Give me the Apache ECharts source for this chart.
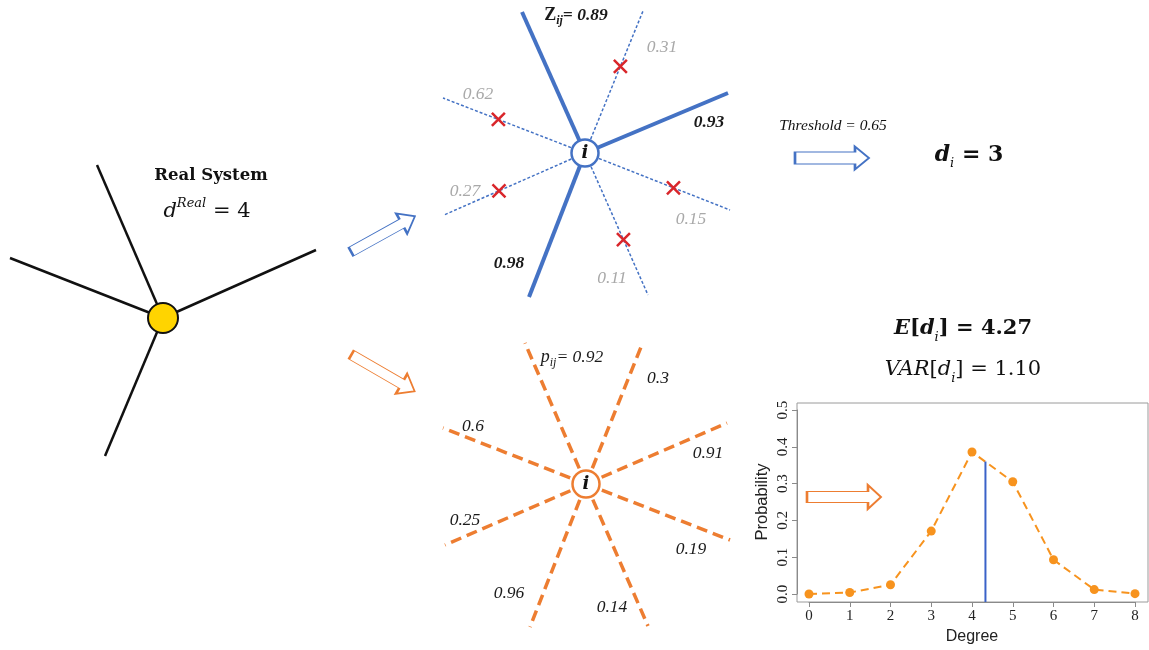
<!DOCTYPE html>
<html><head><meta charset="utf-8">
<script src="https://cdn.jsdelivr.net/npm/echarts@6/dist/echarts.min.js"></script>
<style>html,body{margin:0;padding:0;background:#fff}#c{width:1149px;height:650px}</style>
</head><body><div id="c"></div>
<script>
// ---------------- data ----------------
const degrees = [0, 1, 2, 3, 4, 5, 6, 7, 8];
const probability = [0.0, 0.004, 0.025, 0.171, 0.386, 0.305, 0.093, 0.012, 0.001];
const meanMarkerX = 4.33;
const meanMarkerTop = 0.36;
const zWeights = [0.89, 0.31, 0.93, 0.15, 0.11, 0.98, 0.27, 0.62];
const pWeights = [0.92, 0.3, 0.91, 0.19, 0.14, 0.96, 0.25, 0.6];
const threshold = 0.65;
const realDegree = 4;
const thresholdDegree = zWeights.filter(w => w >= threshold).length;
const expectedText = '4.27';
const varianceText = '1.10';

// ---------------- diagram layout (pixel space of the hidden full-page grid) ----------------
const realCenter = [163, 318];
const realEnds = [[97,165],[10,258],[316,250],[105,456]];
const topCenter = [585, 153];
const topEnds = [[522,12],[643,11],[728,93],[730,210],[648,295],[529,297],[444,215],[443,98]];
const topLabelPos = [[576,15],[662,47],[709,122],[691,219],[612,278],[509,263],[465,191],[478,94]];
const botCenter = [586, 484];
const botEnds = [[525,343],[643,342],[727,423],[730,540],[648,626],[530,627],[445,545],[443,428]];
const botLabelPos = [[572,357],[658,378],[708,453],[691,549],[612,607],[509,593],[465,520],[473,426]];

const BLUE = '#4472C4', ORANGE = '#ED7D31', RED = '#D9262B', PT = '#F7931E';
const SERIF = 'Liberation Serif', MATH = 'DejaVu Serif', SANS = 'Liberation Sans';

const mix = (c, e, t) => [c[0] + (e[0] - c[0]) * t, c[1] + (e[1] - c[1]) * t];
function arrowPath(L, H, s, hl) {
  const a = (H - s) / 2, b = (H + s) / 2, k = L - hl;
  return `path://M0,${a}L${k},${a}L${k},0L${L},${H/2}L${k},${H}L${k},${b}L0,${b}Z`;
}
const arrows = [
  {pos:[383,234], L:73, H:23, s:10, hl:15, rot:29, color:BLUE},
  {pos:[383,373], L:73, H:23, s:10, hl:15, rot:-30, color:ORANGE},
  {pos:[832,158], L:74, H:23, s:12, hl:14, rot:0, color:BLUE},
  {pos:[844,497], L:74, H:24, s:11, hl:13, rot:0, color:ORANGE}
];

const realEdgeData = realEnds.map(e => ({coords:[realCenter, e]}));
const topEdgeData = topEnds.map((e, i) => {
  const kept = zWeights[i] >= threshold;
  return {coords:[topCenter, e], lineStyle: kept ? {color:BLUE, width:4, type:'solid'} : {color:BLUE, width:1.5, type:[3,2]}};
});
const crossData = topEnds.map((e, i) => zWeights[i] < threshold ? mix(topCenter, e, 0.61) : null).filter(Boolean);
const botEdgeData = botEnds.map(e => ({coords:[botCenter, e]}));

const textItem = (pos, formatter, rich) => ({value:pos, label:{show:true, position:'inside', formatter, rich}});

const topLabelItems = zWeights.map((w, i) => {
  const kept = w >= threshold;
  const col = kept ? '#1a1a1a' : '#A9A9A9';
  const f = i === 0 ? '{z|Z}{s|ij}{w|= ' + w + '}' : '{w|' + w + '}';
  return textItem(topLabelPos[i], f, {
    z:{fontFamily:SERIF, fontWeight:'bold', fontSize:18, color:col, lineHeight:24},
    s:{fontFamily:SERIF, fontStyle:'italic', fontWeight:'bold', fontSize:12, color:col, lineHeight:12, verticalAlign:'bottom'},
    w:{fontFamily:SERIF, fontStyle:'italic', fontWeight: kept ? 'bold' : 'normal', fontSize:17.5, color:col, lineHeight:24}
  });
});
const botLabelItems = pWeights.map((w, i) => {
  const col = '#1a1a1a';
  const f = i === 0 ? '{p|p}{s|ij}{w|= ' + w + '}' : '{w|' + w + '}';
  return textItem(botLabelPos[i], f, {
    p:{fontFamily:SERIF, fontStyle:'italic', fontSize:18, color:col, lineHeight:24},
    s:{fontFamily:SERIF, fontStyle:'italic', fontSize:12, color:col, lineHeight:12, verticalAlign:'bottom'},
    w:{fontFamily:SERIF, fontStyle:'italic', fontSize:17.5, color:col, lineHeight:24}
  });
});

const mathRich = (size, weight) => ({
  it:{fontFamily:MATH, fontStyle:'italic', fontWeight:weight, fontSize:size, lineHeight:30, color:'#111'},
  n:{fontFamily:MATH, fontWeight:weight, fontSize:size, lineHeight:30, color:'#111'},
  s:{fontFamily:MATH, fontStyle:'italic', fontWeight:'normal', fontSize:13, lineHeight:15, verticalAlign:'bottom', color:'#111'},
  sup:{fontFamily:MATH, fontStyle:'italic', fontSize:13, lineHeight:14, verticalAlign:'top', color:'#111'},
  t:{fontFamily:MATH, fontWeight:'bold', fontSize:16.5, color:'#111', lineHeight:22},
  th:{fontFamily:SERIF, fontStyle:'italic', fontSize:15.5, color:'#111', lineHeight:22}
});

const textItems = [
  textItem([211,176], '{t|Real System}', mathRich(20,'normal')),
  textItem([207,212], '{it|d}{sup|Real}{n| = ' + realDegree + '}', mathRich(21,'normal')),
  textItem([833,126], '{th|Threshold = ' + threshold + '}', mathRich(20,'normal')),
  textItem([969,155], '{it|d}{s|i}{n| = ' + thresholdDegree + '}', mathRich(22,'bold')),
  textItem([963,329], '{it|E}{n|[}{it|d}{s|i}{n|] = ' + expectedText + '}', mathRich(21,'bold')),
  textItem([963,370], '{it|VAR}{n|[}{it|d}{s|i}{n|] = ' + varianceText + '}', mathRich(21,'normal'))
].concat(topLabelItems, botLabelItems);

const iLabel = {show:true, position:'inside', formatter:'i', fontFamily:MATH, fontStyle:'italic', fontWeight:'bold', fontSize:18, color:'#111'};
const nodeItems = [
  {value:realCenter, symbolSize:30, itemStyle:{color:'#FFD400', borderColor:'#111', borderWidth:2, opacity:1}},
  {value:topCenter, symbolSize:27, itemStyle:{color:'#fff', borderColor:BLUE, borderWidth:2.5, opacity:1}, label:iLabel},
  {value:botCenter, symbolSize:27, itemStyle:{color:'#fff', borderColor:ORANGE, borderWidth:2.5, opacity:1}, label:iLabel}
];

const D = {xAxisIndex:0, yAxisIndex:0};
const option = {
  animation:false,
  backgroundColor:'#fff',
  grid:[
    {left:0, top:0, width:1149, height:650, show:false},
    {left:809, top:410, width:326, height:184, show:false},
    {left:797, top:403, width:351, height:199, show:true, borderColor:'#9a9a9a', borderWidth:1, backgroundColor:'transparent', z:0}
  ],
  xAxis:[
    {gridIndex:0, type:'value', min:0, max:1149, show:false},
    {gridIndex:1, type:'value', min:0, max:8, interval:1, offset:8,
     axisLine:{show:true, onZero:false, lineStyle:{color:'#8a8a8a', width:1}},
     axisTick:{show:true, length:5, lineStyle:{color:'#8a8a8a'}},
     axisLabel:{fontFamily:SERIF, fontSize:15, color:'#222', margin:7},
     splitLine:{show:false},
     name:'Degree', nameLocation:'middle', nameGap:27,
     nameTextStyle:{fontFamily:SANS, fontSize:16, color:'#222'}},
    {gridIndex:2, type:'value', min:0, max:1, show:false}
  ],
  yAxis:[
    {gridIndex:0, type:'value', min:0, max:650, inverse:true, show:false},
    {gridIndex:1, type:'value', min:0, max:0.5, interval:0.1, offset:12,
     axisLine:{show:true, onZero:false, lineStyle:{color:'#8a8a8a', width:1}},
     axisTick:{show:true, length:5, lineStyle:{color:'#8a8a8a'}},
     axisLabel:{fontFamily:SERIF, fontSize:15, color:'#222', margin:6, rotate:90, formatter:v => v.toFixed(1)},
     splitLine:{show:false},
     name:'Probability', nameLocation:'middle', nameGap:26, nameRotate:90,
     nameTextStyle:{fontFamily:SANS, fontSize:16.5, color:'#222'}},
    {gridIndex:2, type:'value', min:0, max:1, show:false}
  ],
  series:[
    Object.assign({type:'lines', coordinateSystem:'cartesian2d', z:2, lineStyle:{color:'#111', width:2.5, opacity:1}, data:realEdgeData}, D),
    Object.assign({type:'lines', coordinateSystem:'cartesian2d', z:2, lineStyle:{opacity:1}, data:topEdgeData}, D),
    Object.assign({type:'lines', coordinateSystem:'cartesian2d', z:2, lineStyle:{color:ORANGE, width:3.5, type:[11,6], opacity:1}, data:botEdgeData}, D),
    Object.assign({type:'scatter', z:4, symbol:'path://M0,0L10,10M10,0L0,10', symbolSize:13,
      itemStyle:{color:'none', borderColor:RED, borderWidth:2.5, opacity:1}, data:crossData}, D),
    Object.assign({type:'scatter', z:5, symbol:'circle', itemStyle:{opacity:1}, data:nodeItems}, D),
    Object.assign({type:'scatter', z:5, itemStyle:{opacity:1}, data:arrows.map(a => ({value:a.pos, symbol:arrowPath(a.L,a.H,a.s,a.hl),
      symbolSize:[a.L,a.H], symbolRotate:a.rot, itemStyle:{color:'#fff', borderColor:a.color, borderWidth:1.5, opacity:1}}))}, D),
    Object.assign({type:'scatter', z:6, symbol:'circle', symbolSize:1, itemStyle:{color:'rgba(0,0,0,0)', opacity:1}, data:textItems}, D),
    {type:'line', xAxisIndex:1, yAxisIndex:1, z:3, clip:false, symbol:'circle', symbolSize:9,
     itemStyle:{color:PT, opacity:1}, lineStyle:{color:PT, width:2, type:[8,5]},
     data:degrees.map((d, i) => [d, probability[i]])},
    {type:'line', xAxisIndex:1, yAxisIndex:1, z:3, clip:false, symbol:'none',
     lineStyle:{color:'#3A62C8', width:2}, data:[[meanMarkerX, -0.0217], [meanMarkerX, meanMarkerTop]]}
  ]
};
const chart = echarts.init(document.getElementById('c'));
chart.setOption(option);
</script>
</body></html>
